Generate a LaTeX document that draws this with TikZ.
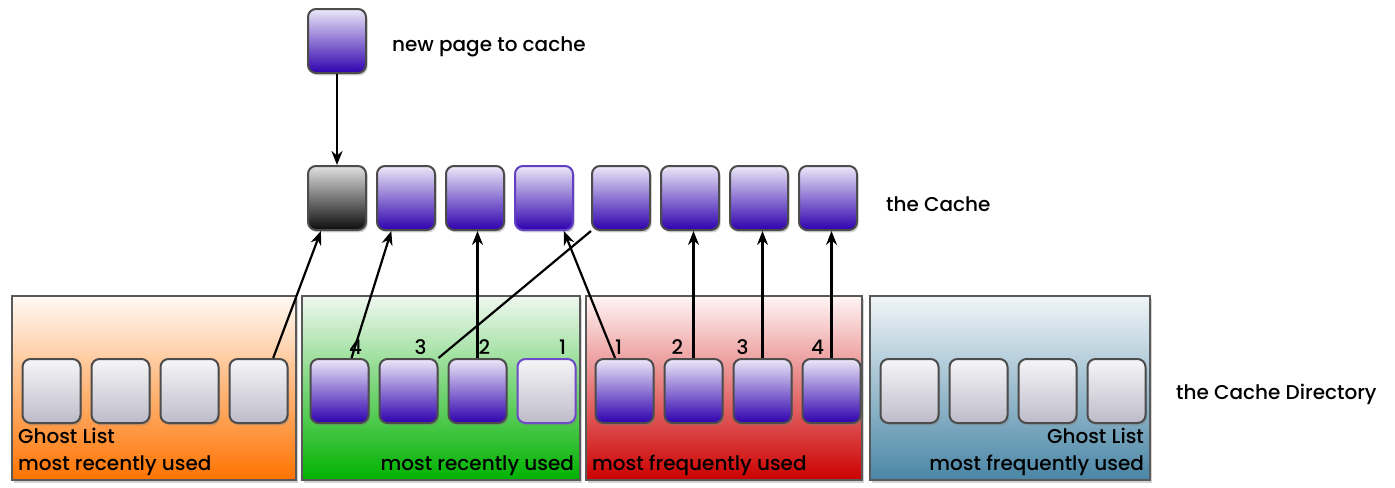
\documentclass[tikz,border=0pt]{standalone}
\usepackage{fontspec}
\setmainfont{Poppins Medium}
\usetikzlibrary{positioning,shadows,arrows.meta}

\definecolor{pagetop}{HTML}{ECE8F8}
\definecolor{pagebot}{HTML}{2E00AE}
\definecolor{ghosttop}{HTML}{F6F6F8}
\definecolor{ghostbot}{HTML}{BEBBC9}
\definecolor{bluebot}{HTML}{4A86A6}

\begin{document}
\begin{tikzpicture}[->,>={Stealth[length=7pt,width=5.5pt]},line width=1.1pt,x=1pt,y=1pt,node distance=34.5pt,
		base node/.style={draw=black!70,line width=1pt,rounded corners=4pt,minimum width=29pt,minimum height=32pt,inner sep=0pt,
			drop shadow={opacity=0.35,shadow xshift=0.8pt,shadow yshift=-1.2pt}},
		page node/.style={base node,top color=pagetop,bottom color=pagebot},
		ghost node/.style={base node,top color=ghosttop,bottom color=ghostbot},
		black node/.style={base node,top color=black!12,bottom color=black!95},
		panel/.style={draw=black!65,line width=1pt,minimum height=92pt,inner sep=0pt,
			drop shadow={opacity=0.35,shadow xshift=1pt,shadow yshift=-1.5pt}},
		num/.style={anchor=south,inner sep=1pt,font=\fontsize{10}{12}\selectfont},
		label/.style={font=\fontsize{10}{13.5}\selectfont,inner sep=1pt}]
		\useasboundingbox (0,0) rectangle (697.5,-243.5);
		% 新页面
		\node[page node] (np) at (168.5,-20.5) {};
		\node[label] (npt) [right=11pt of np,yshift=-3pt] {new page to cache};
		
		% 缓存
		\node[black node] (c1) at (168.5,-99) {};
		\node[page node] (c2) [right of=c1] {};
		\node[page node] (c3) [right of=c2] {};
		\node[page node,draw=pagebot!75] (c4) [right of=c3] {};
		\node[page node] (c5) [right of=c4,node distance=38.5pt] {};
		\node[page node] (c6) [right of=c5] {};
		\node[page node] (c7) [right of=c6] {};
		\node[page node] (c8) [right of=c7] {};
		\node[label] (ct) [right=12.5pt of c8,yshift=-3pt] {the Cache};
		
		% 目录
		\node[panel,minimum width=142pt,top color=orange!4,bottom color=orange!90!red] (ghostru) at (77,-194) {};
		\node[panel,minimum width=139pt,top color=green!50!black!6,bottom color=green!70!black] (mru) at (220.5,-194) {};
		\node[panel,minimum width=138pt,top color=red!4,bottom color=red!80!black] (mfu) at (362,-194) {};
		\node[panel,minimum width=140pt,top color=bluebot!8,bottom color=bluebot] (ghostfu) at (505,-194) {};
		\node[label] (dt) [right=11pt of ghostfu,yshift=-3pt] {the Cache Directory};
		
		\node[ghost node] (o1) at (25.75,-195.5) {};
		\node[ghost node] (o2) [right of=o1] {};
		\node[ghost node] (o3) [right of=o2] {};
		\node[ghost node] (o4) [right of=o3] {};
		
		\node[page node] (g1) at (169.75,-195.5) {};
		\node[page node] (g2) [right of=g1] {};
		\node[page node] (g3) [right of=g2] {};
		\node[ghost node,draw=pagebot!70] (g4) [right of=g3] {};
		
		\node[page node] (r1) at (312.25,-195.5) {};
		\node[page node] (r2) [right of=r1] {};
		\node[page node] (r3) [right of=r2] {};
		\node[page node] (r4) [right of=r3] {};
		
		\node[ghost node] (b1) at (454.75,-195.5) {};
		\node[ghost node] (b2) [right of=b1] {};
		\node[ghost node] (b3) [right of=b2] {};
		\node[ghost node] (b4) [right of=b3] {};
		
		\node[num] (gn4) at ([xshift=8pt]g1.north) {4};
		\node[num] (gn3) at ([xshift=6pt]g2.north) {3};
		\node[num] (gn2) at ([xshift=3.5pt]g3.north) {2};
		\node[num] (gn1) at ([xshift=8pt]g4.north) {1};
		\node[num] (rn1) at ([xshift=-3pt]r1.north) {1};
		\node[num] (rn2) at ([xshift=-8pt]r2.north) {2};
		\node[num] (rn3) at ([xshift=-10pt]r3.north) {3};
		\node[num] (rn4) at ([xshift=-7pt]r4.north) {4};
		
		\node[label,anchor=south west,align=left] (ol) at ([xshift=2pt,yshift=1pt]ghostru.south west) {Ghost List\\most recently used};
		\node[label,anchor=south east,align=right] (gl) at ([xshift=-2pt,yshift=1pt]mru.south east) {most recently used};
		\node[label,anchor=south west,align=left] (rl) at ([xshift=2pt,yshift=1pt]mfu.south west) {most frequently used};
		\node[label,anchor=south east,align=right] (bl) at ([xshift=-2pt,yshift=1pt]ghostfu.south east) {Ghost List\\most frequently used};
		
		\path[->]
		(np) edge (c1)
		(o4.66) edge (c1.244)
		(g1.70) edge (c2.246)
		(g3.north) edge (g3.north |- c3.south)
		(c5.south west) edge[-] (g2.north east)
		(r1.106) edge (c4.301)
		(r2.north) edge (r2.north |- c6.south)
		(r3.north) edge (r3.north |- c7.south)
		(r4.north) edge (r4.north |- c8.south);
\end{tikzpicture}
\end{document}
